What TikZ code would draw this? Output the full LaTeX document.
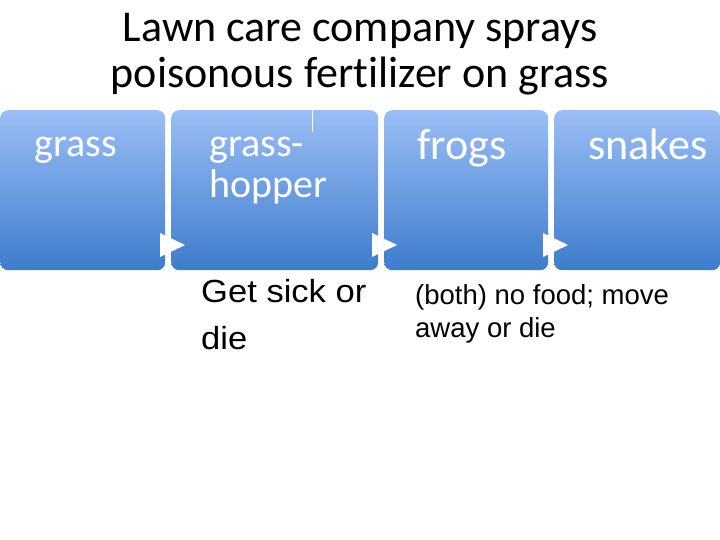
\documentclass[tikz,border=0pt]{standalone}
\usepackage{fontspec}
\setmainfont[Ligatures=NoCommon]{Carlito}
\newfontfamily\arialfont{Liberation Sans}
\usetikzlibrary{positioning}

\definecolor{boxtop}{RGB}{155,190,246}
\definecolor{boxbottom}{RGB}{62,124,203}

\begin{document}
\begin{tikzpicture}[
    x=1pt, y=1pt,
    organism/.style={rectangle, rounded corners=8pt, top color=boxtop, bottom color=boxbottom,
                     minimum height=160pt, anchor=north west, inner sep=0pt},
    boxtext/.style={anchor=base west, text=white, align=left, inner sep=0pt},
    effect/.style={anchor=base west, inner sep=0pt, align=left},
    chevron/.style={fill=white}
]
    \useasboundingbox (0,0) rectangle (720,540);

    % title
    \node[anchor=base, inner sep=0pt, align=center, font=\fontsize{44}{46}\selectfont]
        (title) at (360,452) {Lawn care company sprays\\poisonous fertilizer on grass};

    % food chain boxes
    \node[organism, minimum width=165pt] (grass) at (0,430) {};
    \node[organism, minimum width=207pt] (hopper) at (171,430) {};
    \node[organism, minimum width=164pt] (frogs) at (384,430) {};
    \node[organism, minimum width=166pt] (snakes) at (554,430) {};

    \draw[white, line width=0.8pt] (312,430) -- (312,408);

    \node[boxtext, font=\fontsize{40}{41}\selectfont] (grass-txt) at (34,383) {grass};
    \node[boxtext, font=\fontsize{40}{41}\selectfont] (hopper-txt) at (209,342) {grass-\\hopper};
    \node[boxtext, font=\fontsize{44}{46}\selectfont] (frogs-txt) at (417,380) {frogs};
    \node[boxtext, font=\fontsize{44}{46}\selectfont] (snakes-txt) at (588,380) {snakes};

    % arrows between the boxes
    \fill[chevron] (160,307) -- (185,295) -- (160,283) -- cycle;
    \fill[chevron] (372,307) -- (397,295) -- (372,283) -- cycle;
    \fill[chevron] (543,307) -- (568,295) -- (543,283) -- cycle;

    % effects
    \node[effect, font=\arialfont\fontsize{32}{47}\selectfont, xscale=1.08] (hopper-eff) at (201,190)
        {Get sick or\\die};
    \node[effect, font=\arialfont\fontsize{27.5}{33}\selectfont] (frogs-eff) at (415,202)
        {(both) no food; move\\away or die};
\end{tikzpicture}
\end{document}
